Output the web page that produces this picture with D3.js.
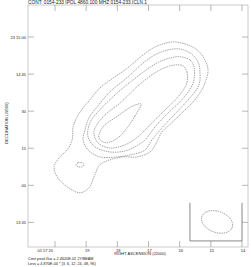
<!DOCTYPE html>
<html>
<head>
<meta charset="utf-8">
<script src="https://cdn.jsdelivr.net/npm/d3@7"></script>
<style>
body { margin: 0; background: #fff; }
text { font-family: "Liberation Sans", Arial, sans-serif; fill: #222; }
</style>
</head>
<body>
<div id="chart"></div>
<script>
// Axis ticks: RA seconds of 01h57m, Dec arcsec relative to +23 14 00
var raTicks = [20, 19, 18, 17, 16, 15, 14];
var raLabels = ["01 57 20", "19", "18", "17", "16", "15", "14"];
var decTicks = [60, 45, 30, 15, 0, -15];
var decLabels = ["23 15 00", "14 45", "30", "15", "00", "13 45"];

// contour levels (multiples of the base level)
var levelBase = 4.870E-04;
var levelSteps = [3, 6, 12, 24, 48, 96];
var peakFlux = 2.4620E-02;

// contour lines: [RA sec, Dec arcsec]
var contourLev3 = [
  [16.25, 58.0], [15.83, 57.2], [15.44, 54.8], [15.19, 50.7], [15.09, 46.7],
  [15.19, 41.4], [15.35, 37.4], [15.60, 33.3], [15.93, 29.3], [16.25, 25.3],
  [16.57, 21.6], [16.73, 17.6], [16.95, 13.5], [17.37, 11.5], [17.82, 11.5],
  [18.24, 10.3], [18.56, 8.3], [18.75, 3.4], [18.91, -1.0], [19.20, -3.0],
  [19.61, -0.6], [19.93, 3.4], [20.03, 7.5], [19.84, 11.5], [19.61, 14.3],
  [19.45, 18.4], [19.42, 23.6], [19.29, 27.7], [19.10, 31.3], [18.88, 34.6],
  [18.56, 39.4], [18.17, 43.1], [17.75, 46.7], [17.37, 50.7], [16.95, 54.8],
  [16.63, 56.8]
];
var contourLev3Island = [
  [19.33, 8.3], [19.26, 9.1], [19.13, 9.1], [19.07, 8.3], [19.13, 7.5], [19.26, 7.5]
];
var contourLev6 = [
  [16.05, 55.2], [15.67, 53.6], [15.41, 49.9], [15.35, 45.9], [15.38, 40.6],
  [15.67, 35.4], [16.09, 29.7], [16.54, 23.6], [16.89, 18.4], [17.11, 14.3],
  [17.59, 12.3], [18.01, 11.5], [18.56, 11.5], [18.94, 14.3], [19.10, 18.4],
  [19.04, 22.4], [18.91, 27.3], [18.65, 31.7], [18.24, 37.8], [17.69, 43.5],
  [17.05, 50.7], [16.57, 54.0]
];
var contourLev12 = [
  [15.99, 52.0], [15.67, 50.7], [15.54, 47.9], [15.57, 41.4], [15.93, 34.6],
  [16.37, 29.3], [16.79, 23.6], [17.11, 18.4], [17.43, 15.6], [17.75, 13.9],
  [18.24, 13.5], [18.72, 15.6], [18.94, 19.6], [18.88, 25.3], [18.56, 30.5],
  [18.14, 35.8], [17.50, 42.6], [16.73, 49.5], [16.31, 51.5]
];
var contourLev24 = [
  [15.89, 48.3], [15.77, 45.9], [15.77, 41.4], [16.05, 35.8], [16.47, 30.5],
  [16.89, 25.3], [17.34, 19.6], [17.75, 16.4], [18.24, 15.1], [18.62, 17.2],
  [18.75, 21.6], [18.46, 27.7], [17.91, 33.3], [17.27, 41.0], [16.63, 46.7],
  [16.15, 48.7]
];
var contourLev48 = [
  [17.24, 32.9], [17.43, 28.1], [17.69, 23.2], [17.98, 19.2], [18.36, 17.2],
  [18.59, 19.2], [18.46, 23.6], [17.98, 28.1], [17.50, 32.1]
];
var contourLines = [contourLev3, contourLev3Island, contourLev6, contourLev12, contourLev24, contourLev48];

// restoring beam (arcsec, deg) and its box corner in map coords
var beamMaj = 13.0;
var beamMin = 8.5;
var beamPA = 70;
var beamCenter = [14.80, -14.8];
var beamBox = [[15.67, -7.1], [14.00, -22.5]];

var svgWidth = 251;
var svgHeight = 267;
var frame = { left: 28, right: 248, top: 5, bottom: 247 };

var svg = d3.select("#chart")
  .append("svg")
  .attr("width", svgWidth)
  .attr("height", svgHeight);

var xScale = d3.scaleLinear().domain([20, 14]).range([55, 242]);
var yScale = d3.scaleLinear().domain([60, -15]).range([37, 222.4]);

// frame
svg.append("rect")
  .attr("x", frame.left)
  .attr("y", frame.top)
  .attr("width", frame.right - frame.left)
  .attr("height", frame.bottom - frame.top)
  .attr("fill", "none")
  .attr("stroke", "#999")
  .attr("stroke-width", 0.5);

// ticks on all four sides
var tickLen = 6;
var tickGroup = svg.append("g")
  .attr("stroke", "#888")
  .attr("stroke-width", 0.6);

raTicks.forEach(function(t) {
  var x = xScale(t);
  tickGroup.append("line").attr("x1", x).attr("x2", x)
    .attr("y1", frame.top).attr("y2", frame.top + tickLen);
  tickGroup.append("line").attr("x1", x).attr("x2", x)
    .attr("y1", frame.bottom).attr("y2", frame.bottom - tickLen);
});
decTicks.forEach(function(t) {
  var y = yScale(t);
  tickGroup.append("line").attr("x1", frame.left).attr("x2", frame.left + tickLen)
    .attr("y1", y).attr("y2", y);
  tickGroup.append("line").attr("x1", frame.right).attr("x2", frame.right - tickLen)
    .attr("y1", y).attr("y2", y);
});

// tick labels
svg.append("g").selectAll("text")
  .data(raTicks)
  .enter()
  .append("text")
  .attr("x", (d, i) => i === 0 ? xScale(d) - 2 : xScale(d) + 1)
  .attr("y", 251.5)
  .attr("text-anchor", (d, i) => i === 0 ? "end" : "middle")
  .attr("font-size", 4)
  .text((d, i) => raLabels[i]);

svg.append("g").selectAll("text")
  .data(decTicks)
  .enter()
  .append("text")
  .attr("x", 26)
  .attr("y", d => yScale(d) + 1.5)
  .attr("text-anchor", "end")
  .attr("font-size", 4)
  .text((d, i) => decLabels[i]);

// axis titles
svg.append("text")
  .attr("x", 140)
  .attr("y", 255)
  .attr("text-anchor", "middle")
  .attr("font-size", 4)
  .text("RIGHT ASCENSION (J2000)");

svg.append("text")
  .attr("transform", "translate(7.5,123)rotate(-90)")
  .attr("text-anchor", "middle")
  .attr("font-size", 4)
  .text("DECLINATION (J2000)");

// header and footer
svg.append("text")
  .attr("x", frame.left)
  .attr("y", 4.3)
  .attr("font-size", 4.8)
  .text("CONT: 0154-233  IPOL  4860.100 MHZ  0154-233.ICLN.1");

svg.append("text")
  .attr("x", frame.left)
  .attr("y", 260)
  .attr("font-size", 3.8)
  .text("Cont peak flux =  " + peakFlux.toExponential(4).toUpperCase().replace("E-", "E-0") + " JY/BEAM");

svg.append("text")
  .attr("x", frame.left)
  .attr("y", 264.5)
  .attr("font-size", 3.8)
  .text("Levs = " + levelBase.toExponential(3).toUpperCase().replace("E-", "E-0") + " * (" + levelSteps.join(", ") + ")");

// contours
var contourLine = d3.line()
  .x(d => xScale(d[0]))
  .y(d => yScale(d[1]))
  .curve(d3.curveCatmullRomClosed.alpha(0.5));

svg.append("g").selectAll("path")
  .data(contourLines)
  .enter()
  .append("path")
  .attr("d", contourLine)
  .attr("fill", "none")
  .attr("stroke", "#666")
  .attr("stroke-width", 0.6)
  .attr("stroke-dasharray", "1.4,0.9");

// beam box and beam
var bx0 = xScale(beamBox[0][0]), by0 = yScale(beamBox[0][1]);
var bx1 = xScale(beamBox[1][0]), by1 = yScale(beamBox[1][1]);
svg.append("path")
  .attr("d", `M${bx0},${by0}V${by1}H${bx1}V${by0}`)
  .attr("fill", "none")
  .attr("stroke", "#555")
  .attr("stroke-width", 0.7);

var pxPerArcsec = Math.abs(yScale(1) - yScale(0));
svg.append("ellipse")
  .attr("transform", `translate(${xScale(beamCenter[0])},${yScale(beamCenter[1])})rotate(${90 - beamPA})`)
  .attr("rx", beamMaj / 2 * pxPerArcsec)
  .attr("ry", beamMin / 2 * pxPerArcsec)
  .attr("fill", "none")
  .attr("stroke", "#666")
  .attr("stroke-width", 0.6)
  .attr("stroke-dasharray", "1.4,0.9");
</script>
</body>
</html>
